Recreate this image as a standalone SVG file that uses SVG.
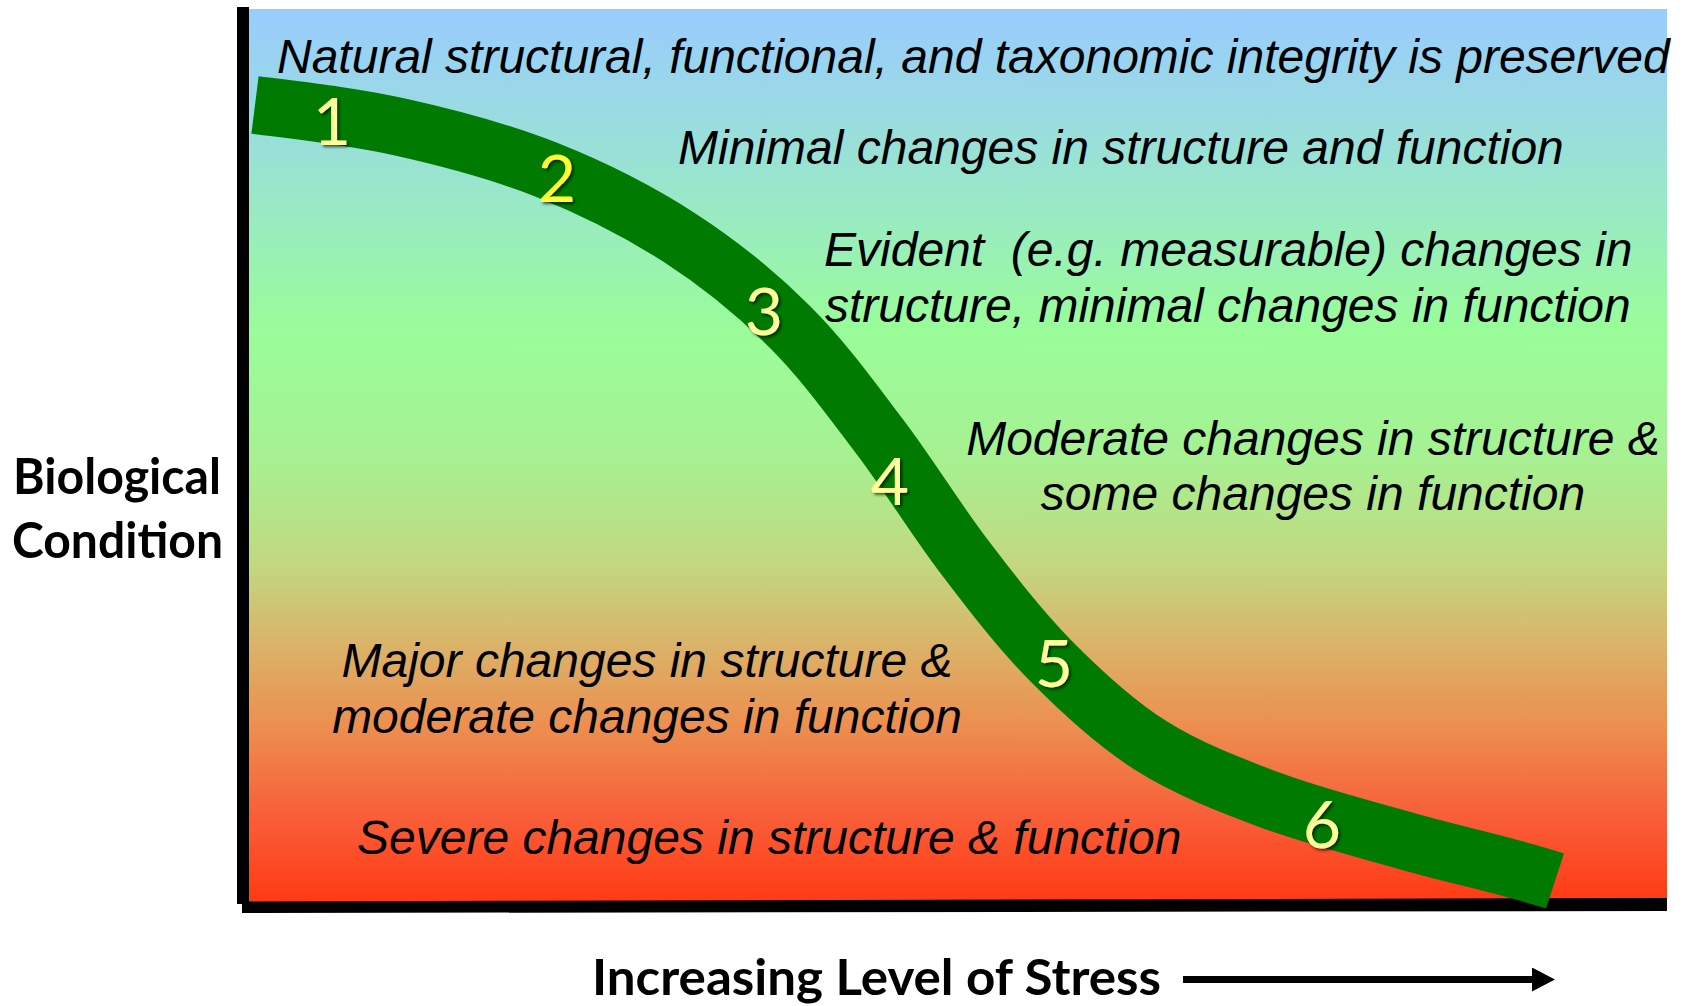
<svg xmlns="http://www.w3.org/2000/svg" width="1683" height="1006" viewBox="0 0 1683 1006">
  <defs>
    <linearGradient id="condition-grad" x1="0" y1="0" x2="0" y2="1">
      <stop offset="0" stop-color="#99CCFF"/>
      <stop offset="0.2" stop-color="#99E6CC"/>
      <stop offset="0.36" stop-color="#99FD99"/>
      <stop offset="0.5" stop-color="#A6F192"/>
      <stop offset="0.62" stop-color="#C2D880"/>
      <stop offset="0.7" stop-color="#D8B86C"/>
      <stop offset="0.8" stop-color="#EC9050"/>
      <stop offset="0.9" stop-color="#F8603A"/>
      <stop offset="1" stop-color="#FF3A14"/>
    </linearGradient>
    <filter id="digit-shadow" x="-30%" y="-30%" width="160%" height="160%">
      <feDropShadow dx="2" dy="2" stdDeviation="1.5" flood-color="#000" flood-opacity="0.65"/>
    </filter>
    <marker id="arrow-head" viewBox="0 0 24 24" refX="0" refY="12" markerWidth="24" markerHeight="24" markerUnits="userSpaceOnUse" orient="auto">
      <path d="M0,0 L23,12 L0,24 Z" fill="#000"/>
    </marker>
  </defs>
  <style>
    .zone { font-family: "Liberation Sans", Arial, sans-serif; font-style: italic; font-size: 48px; fill: #000; }
    .axis-title { font-family: Lato, "Open Sans", sans-serif; font-weight: 700; font-size: 49px; fill: #000; }
    .step { font-family: Lato, "Open Sans", sans-serif; font-size: 66px; fill: #FFFF99; text-anchor: middle; filter: url(#digit-shadow); }
    .mid { text-anchor: middle; }
  </style>

  <rect width="1683" height="1006" fill="#FFFFFF"/>

  <!-- plot area -->
  <g id="plot-area">
    <rect x="243" y="9" width="1424" height="893" fill="url(#condition-grad)"/>
  </g>

  <!-- axes -->
  <g id="axes">
    <polygon points="237,7 249,7 249,904 237,904" fill="#000"/>
    <polygon points="242,901.5 1667,898 1667,911 242,913" fill="#000"/>
  </g>

  <!-- condition zone labels -->
  <g id="zone-1"><text class="zone" x="277" y="73">Natural structural, functional, and taxonomic integrity is preserved</text></g>
  <g id="zone-2"><text class="zone" x="678" y="164">Minimal changes in structure and function</text></g>
  <g id="zone-3">
    <text class="zone" x="824" y="266" xml:space="preserve" style="white-space:pre">Evident  (e.g. measurable) changes in</text>
    <text class="zone" x="825" y="322">structure, minimal changes in function</text>
  </g>
  <g id="zone-4">
    <text class="zone mid" x="1313" y="455">Moderate changes in structure &amp;</text>
    <text class="zone mid" x="1313" y="510">some changes in function</text>
  </g>
  <g id="zone-5">
    <text class="zone mid" x="647" y="677">Major changes in structure &amp;</text>
    <text class="zone mid" x="647" y="733">moderate changes in function</text>
  </g>
  <g id="zone-6"><text class="zone" x="357" y="854">Severe changes in structure &amp; function</text></g>

  <!-- stress-response curve and stress arrow -->
  <g id="connectors">
    <path id="response-curve" d="M255,105 C303,111 351.3,116.2 400,127 C448.7,137.8 500.3,151.5 547,170 C593.7,188.5 639.5,211.8 680,238 C720.5,264.2 756.7,293.8 790,327 C823.3,360.2 851.2,399 880,437 C908.8,475 934.7,517.8 963,555 C991.3,592.2 1018.8,628.3 1050,660 C1081.2,691.7 1113.3,721.7 1150,745 C1186.7,768.3 1226.7,783.8 1270,800 C1313.3,816.2 1362.5,828.5 1410,842 C1457.5,855.5 1509.4,866.1 1555,881" fill="none" stroke="#007A00" stroke-width="58" stroke-linecap="butt"/>
    <line id="stress-arrow" x1="1183" y1="979.5" x2="1532" y2="979.5" stroke="#000" stroke-width="7" marker-end="url(#arrow-head)"/>
  </g>

  <!-- tier numbers along the curve -->
  <g id="tier-1"><text class="step" x="332" y="145">1</text></g>
  <g id="tier-2"><text class="step" x="557" y="202" style="fill:#FFFF33">2</text></g>
  <g id="tier-3"><text class="step" x="764" y="335">3</text></g>
  <g id="tier-4"><text class="step" x="890" y="505">4</text></g>
  <g id="tier-5"><text class="step" x="1054" y="687">5</text></g>
  <g id="tier-6"><text class="step" x="1322" y="848">6</text></g>

  <!-- axis titles -->
  <g id="y-title">
    <text class="axis-title" x="13" y="494" textLength="208" lengthAdjust="spacingAndGlyphs">Biological</text>
    <text class="axis-title" x="12" y="558" textLength="211" lengthAdjust="spacingAndGlyphs">Condition</text>
  </g>
  <g id="x-title">
    <text class="axis-title" x="592" y="995" textLength="569" lengthAdjust="spacingAndGlyphs">Increasing Level of Stress</text>
  </g>
</svg>
